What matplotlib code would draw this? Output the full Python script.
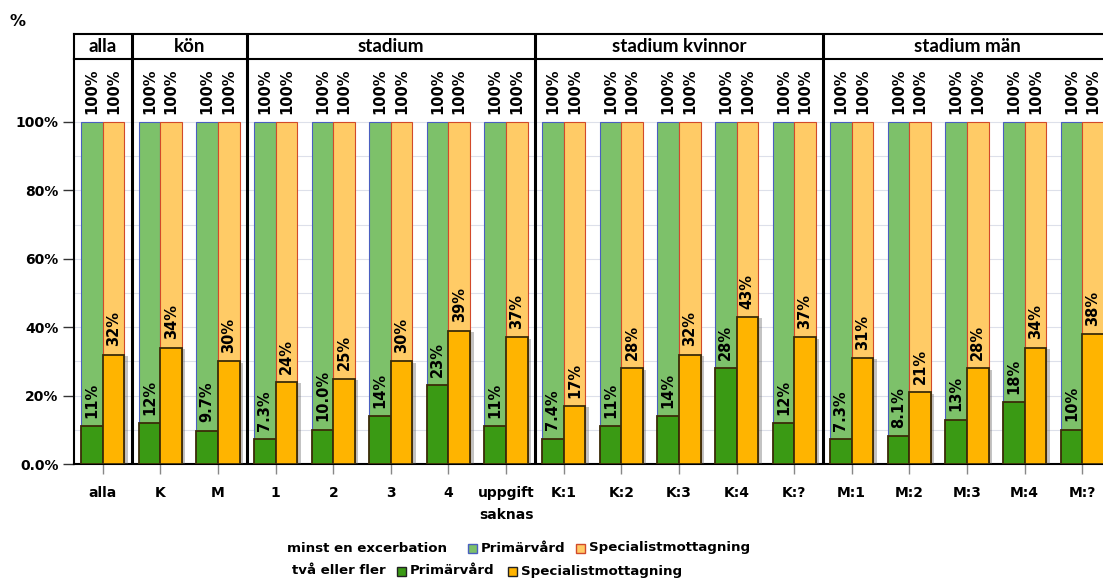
import numpy as np
import matplotlib
matplotlib.use("Agg")
import matplotlib.pyplot as plt
from matplotlib.patches import Rectangle

# ── Data ──
categories = ["alla", "K", "M", "1", "2", "3", "4", "uppgift\nsaknas",
              "K:1", "K:2", "K:3", "K:4", "K:?",
              "M:1", "M:2", "M:3", "M:4", "M:?"]
groups = ["alla", "kön", "stadium", "stadium kvinnor", "stadium män"]
group_sizes = [1, 2, 5, 5, 5]

# minst en excerbation (all 100%)
prim_minst = [100] * 18
spec_minst = [100] * 18
# två eller fler
prim_tva = [11, 12, 9.7, 7.3, 10.0, 14, 23, 11, 7.4, 11, 14, 28, 12, 7.3, 8.1, 13, 18, 10]
spec_tva = [32, 34, 30, 24, 25, 30, 39, 37, 17, 28, 32, 43, 37, 31, 21, 28, 34, 38]
prim_tva_lbl = ["11%", "12%", "9.7%", "7.3%", "10.0%", "14%", "23%", "11%", "7.4%", "11%",
                "14%", "28%", "12%", "7.3%", "8.1%", "13%", "18%", "10%"]
spec_tva_lbl = ["32%", "34%", "30%", "24%", "25%", "30%", "39%", "37%", "17%", "28%",
                "32%", "43%", "37%", "31%", "21%", "28%", "34%", "38%"]

# ── Stil ──
plt.rcParams['font.family'] = ['DejaVu Sans']
plt.rcParams['font.weight'] = 'bold'
FS = 10
FS_LBL = 10.5
FS_LEG = 9.6
HDR_FONT = ['Lato', 'DejaVu Sans']

c_prim_light, e_prim_light = "#7dc16a", "#4a5fc0"
c_spec_light, e_spec_light = "#ffcb66", "#d24a2a"
c_prim_dark = "#3a9a14"
c_spec_dark = "#ffb400"
e_dark = "#3b2c08"

W, H = 1103, 583
fig = plt.figure(figsize=(W / 100, H / 100), dpi=100)

def fx(px):
    return px / W

def fy(py):
    return 1 - py / H

x_left, x_right = 74, 1111
y_top_hdr, y_top_ax, y_bot = 34, 59, 464
ax = fig.add_axes([fx(x_left), fy(y_bot), fx(x_right - x_left), (y_bot - y_top_ax) / H])
hdr = fig.add_axes([fx(x_left), fy(y_top_ax), fx(x_right - x_left), (y_top_ax - y_top_hdr) / H])

x = np.arange(len(categories))
bw = 0.375
ymax = (y_bot - y_top_ax) / (y_bot - 122) * 100

# ── Staplar ──
ax.bar(x - bw / 2, prim_minst, width=bw, color=c_prim_light, edgecolor=e_prim_light, linewidth=0.8, zorder=2)
ax.bar(x + bw / 2, spec_minst, width=bw, color=c_spec_light, edgecolor=e_spec_light, linewidth=0.8, zorder=2)
# skugga
ax.bar(x - bw / 2 + 0.06, np.array(prim_tva) - 0.4, width=bw, color="#555555", alpha=0.35, linewidth=0, zorder=3)
ax.bar(x + bw / 2 + 0.06, np.array(spec_tva) - 0.4, width=bw, color="#555555", alpha=0.35, linewidth=0, zorder=3)
ax.bar(x - bw / 2, prim_tva, width=bw, color=c_prim_dark, edgecolor=e_dark, linewidth=1.3, zorder=4)
ax.bar(x + bw / 2, spec_tva, width=bw, color=c_spec_dark, edgecolor=e_dark, linewidth=1.3, zorder=4)

# etiketter
for i in x:
    ax.annotate("100%", (i - bw / 2, prim_minst[i]), xytext=(0, 6), textcoords="offset points",
                rotation=90, ha="center", va="bottom", fontsize=FS_LBL, fontweight="bold", zorder=6)
    ax.annotate("100%", (i + bw / 2, spec_minst[i]), xytext=(0, 6), textcoords="offset points",
                rotation=90, ha="center", va="bottom", fontsize=FS_LBL, fontweight="bold", zorder=6)
    ax.annotate(prim_tva_lbl[i], (i - bw / 2, prim_tva[i]), xytext=(0, 6), textcoords="offset points",
                rotation=90, ha="center", va="bottom", fontsize=FS_LBL, fontweight="bold", zorder=6)
    ax.annotate(spec_tva_lbl[i], (i + bw / 2, spec_tva[i]), xytext=(0, 6), textcoords="offset points",
                rotation=90, ha="center", va="bottom", fontsize=FS_LBL, fontweight="bold", zorder=6)

# ── Axlar ──
ax.set_xlim(-0.5, 17.5)
ax.set_ylim(0, ymax)
ax.set_yticks([0, 20, 40, 60, 80, 100])
ax.set_yticklabels(["0.0%", "20%", "40%", "60%", "80%", "100%"], fontsize=FS, fontweight="bold")
ax.set_yticks(np.arange(10, 101, 10), minor=True)
ax.tick_params(axis="y", which="major", length=8, width=1, color="#333333", pad=3)
ax.tick_params(axis="y", which="minor", length=0)
ax.set_xticks(x)
ax.set_xticklabels(categories, fontsize=FS, fontweight="bold", linespacing=1.75)
ax.tick_params(axis="x", length=7, width=1, color="#888888", pad=9)
ax.grid(axis="y", which="both", color="#dde0ea", linewidth=0.8, zorder=0)
ax.set_axisbelow(True)
for s in ["top", "right"]:
    ax.spines[s].set_visible(False)
ax.spines["left"].set_linewidth(1.5)
ax.spines["bottom"].set_linewidth(1.5)

# gruppgränser
bounds = np.cumsum(group_sizes)[:-1] - 0.5
for b in bounds:
    ax.axvline(b, color="black", linewidth=2.2, zorder=7)
    hdr.axvline(b, color="black", linewidth=2.2)

# ── Rubrikrad ──
hdr.set_xlim(-0.5, 17.5)
hdr.set_ylim(0, 1)
hdr.set_xticks([])
hdr.set_yticks([])
for s in hdr.spines.values():
    s.set_linewidth(1.5)
start = -0.5
for g, n in zip(groups, group_sizes):
    hdr.text(start + n / 2, 0.5, g, ha="center", va="center", fontsize=13.5,
             fontweight="bold", family=HDR_FONT)
    start += n

fig.text(fx(10), fy(22), "%", fontsize=11.5, fontweight="bold", va="center")

# ── Legend ──
def legend_row(py, title, title_end, items):
    fig.text(fx(title_end), fy(py), title, fontsize=FS_LEG, fontweight="bold", va="center", ha="right")
    for sq_x, fc, ec, label in items:
        fig.patches.append(Rectangle((fx(sq_x), fy(py + 4.5)), fx(9), 9 / H, facecolor=fc,
                                     edgecolor=ec, linewidth=1, transform=fig.transFigure))
        fig.text(fx(sq_x + 13), fy(py), label, fontsize=FS_LEG, fontweight="bold", va="center")

legend_row(548, "minst en excerbation", 447,
           [(468, c_prim_light, e_prim_light, "Primärvård"),
            (576, c_spec_light, e_spec_light, "Specialistmottagning")])
legend_row(571, "två eller fler", 386,
           [(397, c_prim_dark, "#222222", "Primärvård"),
            (508, c_spec_dark, "#222222", "Specialistmottagning")])

plt.savefig("out.png", dpi=100)
